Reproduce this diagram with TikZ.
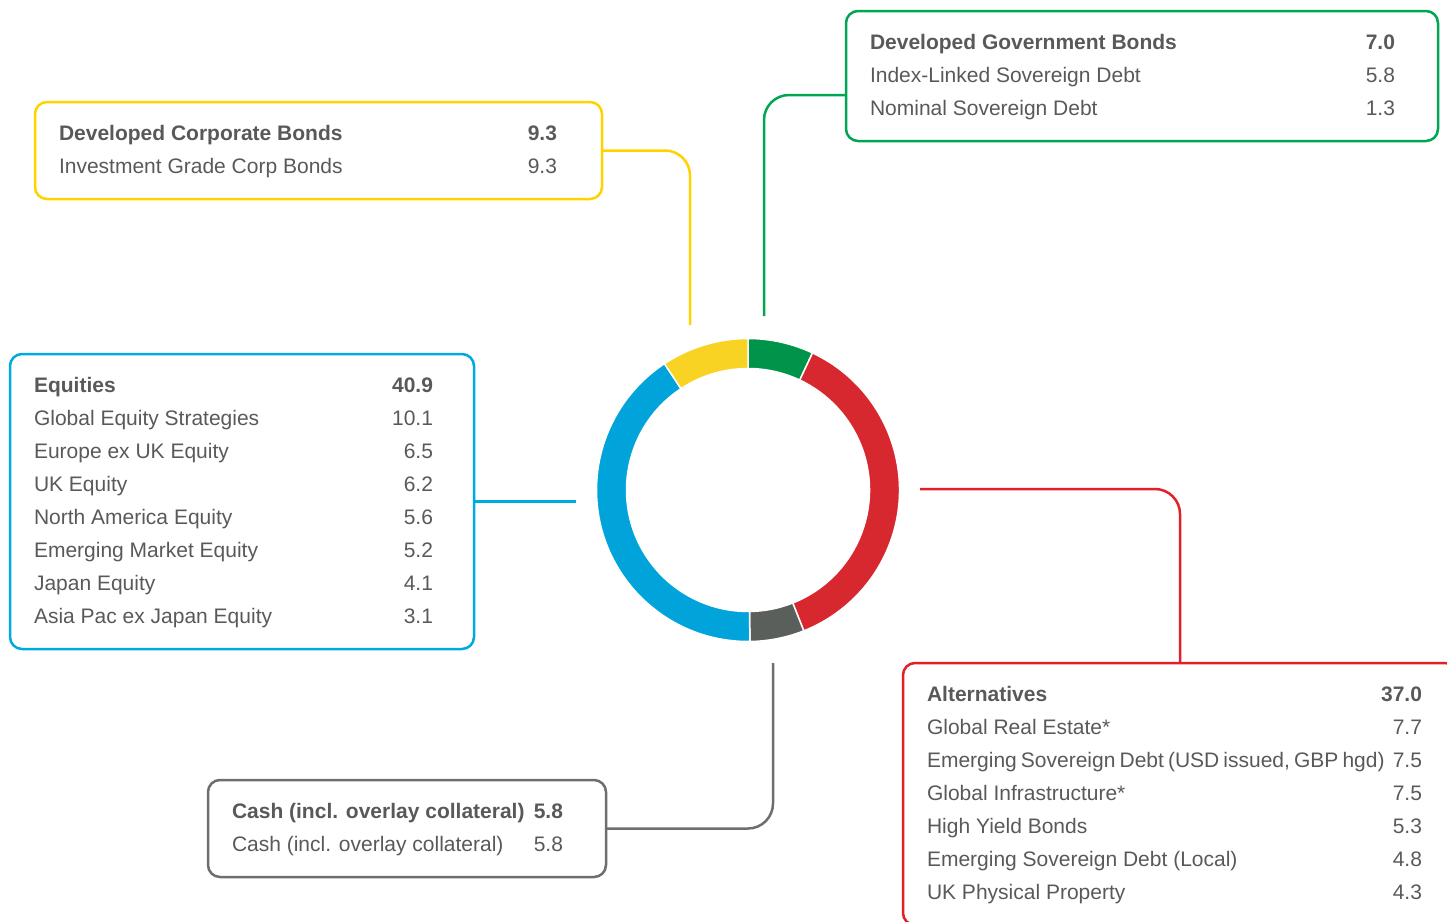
\documentclass[tikz,border=0pt]{standalone}
\usepackage{fontspec}
\setmainfont{Liberation Sans}
\usepackage{xcolor}
\usepackage{tikz}
\usetikzlibrary{positioning}

\definecolor{textgrey}{HTML}{58595B}
\definecolor{corpline}{HTML}{FFD200}
\definecolor{corpfill}{HTML}{F9D323}
\definecolor{govline}{HTML}{00A651}
\definecolor{govfill}{HTML}{00944A}
\definecolor{eqline}{HTML}{00A9E0}
\definecolor{eqfill}{HTML}{00A4DA}
\definecolor{cashline}{HTML}{6D6E70}
\definecolor{cashfill}{HTML}{5B5F5C}
\definecolor{altline}{HTML}{E3202A}
\definecolor{altfill}{HTML}{D7282F}

\begin{document}
\begin{tikzpicture}[x=1pt, y=-1pt,
  catbox/.style={draw, line width=2.5pt, rounded corners=12pt, inner xsep=0pt, inner ysep=15.5pt,
    outer sep=0pt, anchor=north west, text=textgrey, font=\fontsize{21}{33}\selectfont},
  link/.style={line width=2.5pt, rounded corners=25pt}]
  \useasboundingbox (0,0) rectangle (1447,921);

  % ring
  \coordinate (ring) at (748,490);
  \def\segstart{-90}
  \begin{scope}[shift={(ring)}]
  \foreach \pct/\col in {7.0/govfill, 37.0/altfill, 5.8/cashfill, 40.9/eqfill, 9.3/corpfill} {
    \pgfmathsetmacro\segend{\segstart+3.6*\pct}
    \filldraw[fill=\col, draw=white, line width=1.5pt] (\segstart:151.5) arc[start angle=\segstart, end angle=\segend, radius=151.5]
      -- (\segend:121.5) arc[start angle=\segend, end angle=\segstart, radius=121.5] -- cycle;
    \global\let\segstart\segend
  }
  \end{scope}

  % Developed Corporate Bonds
  \node[catbox, draw=corpline] (corp) at (35,102) {\hspace*{24pt}\begin{tabular*}{498pt}{@{}l@{\extracolsep{\fill}}r@{}}
    \textbf{Developed Corporate Bonds} & \textbf{9.3}\\
    Investment Grade Corp Bonds & 9.3
  \end{tabular*}\hspace*{45pt}};

  % Developed Government Bonds
  \node[catbox, draw=govline] (gov) at (846,11) {\hspace*{24pt}\begin{tabular*}{525pt}{@{}l@{\extracolsep{\fill}}r@{}}
    \textbf{Developed Government Bonds} & \textbf{7.0}\\
    Index-Linked Sovereign Debt & 5.8\\
    Nominal Sovereign Debt & 1.3
  \end{tabular*}\hspace*{43pt}};

  % Equities
  \node[catbox, draw=eqline] (eq) at (10,354) {\hspace*{24pt}\begin{tabular*}{399pt}{@{}l@{\extracolsep{\fill}}r@{}}
    \textbf{Equities} & \textbf{40.9}\\
    Global Equity Strategies & 10.1\\
    Europe ex UK Equity & 6.5\\
    UK Equity & 6.2\\
    North America Equity & 5.6\\
    Emerging Market Equity & 5.2\\
    Japan Equity & 4.1\\
    Asia Pac ex Japan Equity & 3.1
  \end{tabular*}\hspace*{41pt}};

  % Cash
  \node[catbox, draw=cashline] (cash) at (208,780) {\hspace*{24pt}\begin{tabular*}{331pt}{@{}l@{\extracolsep{\fill}}r@{}}
    \textbf{Cash (incl. overlay collateral)} & \textbf{5.8}\\
    Cash (incl. overlay collateral) & 5.8
  \end{tabular*}\hspace*{43pt}};

  % Alternatives
  \node[catbox, draw=altline] (alt) at (903,663) {\hspace*{24pt}\begin{tabular*}{495pt}{@{}l@{\extracolsep{\fill}}r@{}}
    \textbf{Alternatives} & \textbf{37.0}\\
    Global Real Estate* & 7.7\\
    \makebox[454pt][l]{\spaceskip=4.1pt Emerging Sovereign Debt (USD issued, GBP hgd)} & 7.5\\
    Global Infrastructure* & 7.5\\
    High Yield Bonds & 5.3\\
    Emerging Sovereign Debt (Local) & 4.8\\
    UK Physical Property & 4.3
  \end{tabular*}\hspace*{35pt}};

  % connectors
  \coordinate (corpend) at (690,325);
  \coordinate (govend) at (764,316);
  \coordinate (eqend) at (576,501.5);
  \coordinate (cashend) at (773,663);
  \coordinate (altstart) at (920,489);
  \draw[link, corpline] (corp.east) -| (corpend);
  \draw[link, govline] ([yshift=-19pt]gov.west) -| (govend);
  \draw[link, eqline] (eq.east) -- (eqend);
  \draw[link, cashline] (cash.east) -| (cashend);
  \draw[link, altline] (altstart) -| (alt.north);
\end{tikzpicture}
\end{document}
